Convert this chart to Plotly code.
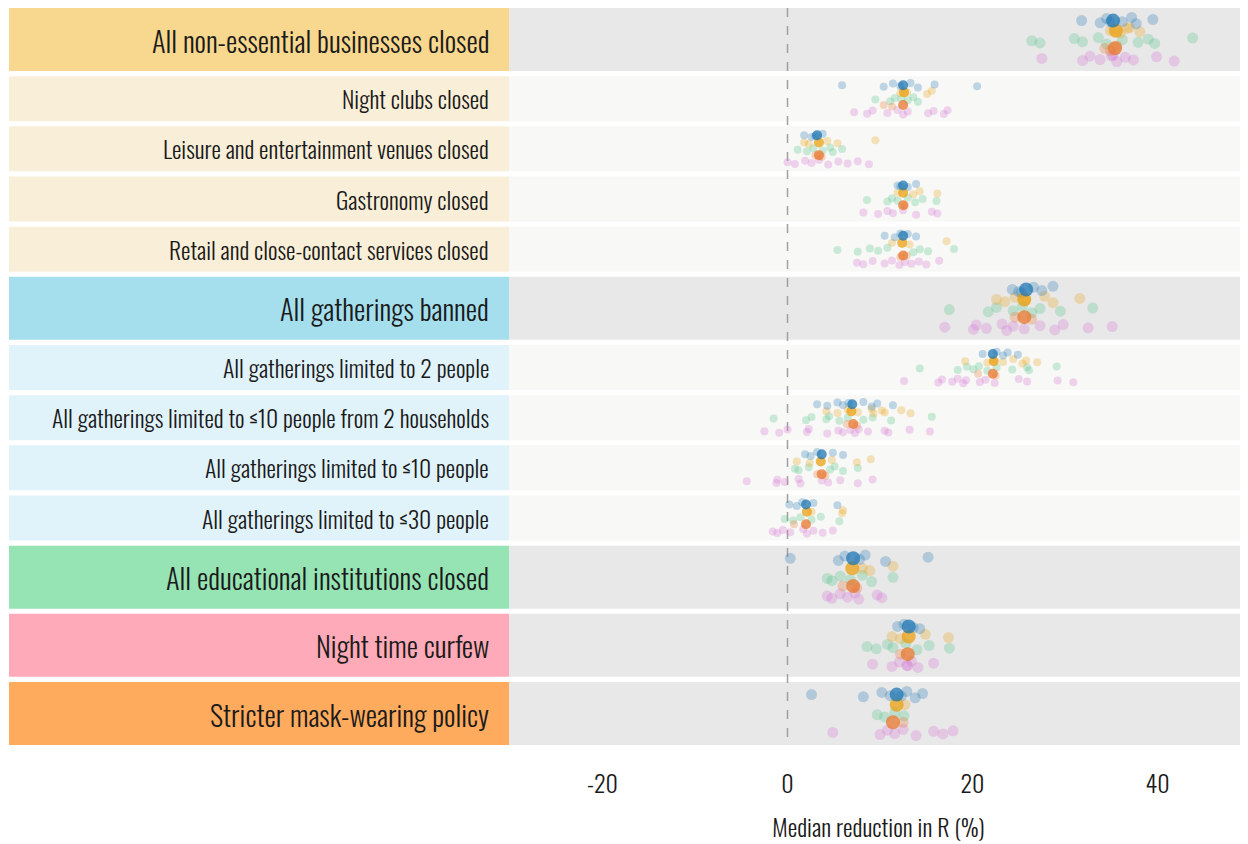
import plotly.graph_objects as go

# ---------------- data ----------------
labels = [
    "All non-essential businesses closed",
    "Night clubs closed",
    "Leisure and entertainment venues closed",
    "Gastronomy closed",
    "Retail and close-contact services closed",
    "All gatherings banned",
    "All gatherings limited to 2 people",
    "All gatherings limited to ≤10 people from 2 households",
    "All gatherings limited to ≤10 people",
    "All gatherings limited to ≤30 people",
    "All educational institutions closed",
    "Night time curfew",
    "Stricter mask-wearing policy",
]
is_main = [True, False, False, False, False, True, False, False, False, False, True, True, True]
group = ["biz", "biz", "biz", "biz", "biz", "gath", "gath", "gath", "gath", "gath", "edu", "curf", "mask"]

blue_pts = [
    [31.8, 33.8, 34.5, 36.2, 37.2, 37.7, 39.5, 34.9],
    [5.9, 10.4, 11.4, 12.2, 13.3, 14.1, 15.9, 20.5],
    [1.8, 2.6, 3.8, 3.0],
    [11.9, 13.0, 13.9, 12.2],
    [10.5, 11.6, 13.0, 13.9, 12.2],
    [24.3, 25.0, 26.6, 27.5, 28.7, 25.3],
    [21.1, 23.3, 23.8, 24.9, 22.6],
    [3.2, 4.3, 5.4, 6.0, 8.2, 9.1, 9.7, 11.4, 6.6],
    [1.9, 2.5, 4.9, 6.0, 3.2],
    [0.2, 1.0, 2.8, 5.4, 1.6],
    [0.3, 5.5, 6.2, 7.8, 8.4, 10.6, 15.2],
    [11.9, 14.3, 12.6, 13.6],
    [2.6, 8.2, 10.2, 11.1, 12.9, 13.8, 14.6, 12.3],
]
blue_med = [35.2, 12.5, 3.2, 12.5, 12.5, 25.8, 22.2, 7.0, 3.7, 2.0, 7.1, 13.1, 11.8]

yellow_pts = [
    [34.9, 36.0, 36.7, 38.1, 37.0],
    [12.9, 15.1, 15.6, 12.2],
    [1.8, 2.3, 4.3, 5.4, 9.5],
    [11.9, 13.6, 14.3, 16.2],
    [11.3, 13.2, 17.2],
    [22.6, 23.5, 24.6, 25.7, 27.8, 28.7, 31.6],
    [19.2, 21.6, 22.3, 23.3, 24.4, 25.4, 25.8, 27.0],
    [4.2, 5.4, 6.5, 7.6, 9.1, 9.3, 10.2, 10.5, 12.3, 13.3],
    [1.0, 2.4, 4.8, 7.5, 9.0],
    [2.6, 5.9, 6.0],
    [8.1, 8.9, 11.4],
    [11.3, 12.2, 14.9, 17.4],
    [12.7],
]
yellow_med = [35.5, 12.6, 3.4, 12.5, 12.4, 25.6, 22.3, 6.9, 3.6, 2.1, 7.0, 13.1, 11.8]

green_pts = [
    [26.4, 27.3, 31.0, 31.9, 33.6, 34.5, 36.2, 37.9, 39.0, 39.7, 43.8],
    [9.5, 11.1, 11.6, 13.0, 13.6, 14.1, 12.3],
    [1.1, 2.1, 2.8, 3.8, 4.6, 4.9, 5.9],
    [8.6, 10.8, 11.3, 11.9, 13.0, 13.8, 14.6, 16.1],
    [5.4, 7.6, 8.9, 9.8, 10.8, 13.6, 14.3, 15.2, 18.0],
    [17.5, 21.7, 22.6, 24.4, 25.4, 26.4, 27.3, 29.5, 33.0],
    [14.3, 18.4, 19.4, 20.1, 20.7, 21.6, 22.6, 24.3, 25.9, 26.1, 29.1],
    [-1.5, 2.0, 2.6, 4.2, 4.5, 5.6, 6.5, 8.2, 9.2, 11.2, 15.6],
    [0.8, 1.2, 2.3, 4.6, 5.1, 6.0, 7.6],
    [-0.3, 0.6, 1.4, 2.6, 3.6, 5.6],
    [4.3, 4.8, 5.7, 6.8, 8.1, 9.1, 11.4],
    [8.6, 9.6, 10.8, 11.4, 12.8, 14.0, 15.3, 17.5],
    [9.7, 10.5, 11.6, 12.6],
]

orange_pts = [
    [34.3, 34.9, 35.6],
    [10.4, 11.3],
    [3.0, 3.7],
    [12.7],
    [12.9, 12.2],
    [24.6, 26.4],
    [20.6, 22.5],
    [6.4, 7.5],
    [3.2, 4.1],
    [0.7],
    [6.0, 7.5],
    [12.2],
    [12.5],
]
orange_med = [35.4, 12.5, 3.4, 12.5, 12.5, 25.6, 22.2, 7.1, 3.7, 2.0, 7.1, 13.0, 11.4]

pink_pts = [
    [27.5, 31.9, 32.7, 33.8, 35.2, 35.6, 36.5, 37.4, 39.9, 41.8, 35.0],
    [7.2, 8.6, 9.2, 10.8, 11.9, 12.5, 13.0, 15.2, 15.8, 16.9, 17.3],
    [0.0, 0.8, 1.9, 2.6, 3.4, 4.4, 5.5, 6.5, 7.6, 8.8],
    [8.2, 9.8, 10.8, 11.4, 12.5, 13.9, 15.6, 16.2],
    [7.5, 8.2, 9.2, 10.5, 11.3, 12.1, 12.7, 13.4, 14.2, 15.0, 16.4],
    [17.0, 20.1, 20.4, 21.5, 23.2, 23.7, 24.4, 25.6, 27.3, 28.9, 29.8, 32.5, 35.1],
    [12.6, 16.3, 16.7, 17.8, 18.4, 19.0, 19.3, 20.8, 21.4, 22.4, 25.0, 25.9, 29.2, 30.9],
    [-2.5, -0.9, 0.0, 2.1, 2.3, 4.3, 5.5, 6.0, 6.8, 7.3, 7.7, 8.7, 10.5, 10.9, 13.2, 15.4],
    [-4.4, -1.2, -1.1, -0.3, 1.2, 1.4, 3.7, 4.4, 5.7, 7.6, 9.2],
    [-1.6, -1.1, -0.5, 0.3, 1.7, 2.1, 2.8, 3.8, 4.9],
    [4.3, 4.8, 5.7, 6.5, 7.3, 7.7, 9.7, 10.2],
    [9.2, 11.3, 12.1, 12.9, 13.4, 14.1, 15.8, 13.0],
    [4.9, 10.0, 10.8, 11.6, 12.5, 13.9, 15.8, 16.8, 17.9],
]

x_ticks = [-20, 0, 20, 40]
x_title = "Median reduction in R (%)"

# ---------------- styling ----------------
FONT = "Oswald, 'Liberation Sans Narrow', 'DejaVu Sans Condensed', 'Roboto Condensed', sans-serif"
TXT = "#1a1a1a"
box_colors = {
    ("biz", True): "#f8d78f", ("biz", False): "#f9efd8",
    ("gath", True): "#a5dfee", ("gath", False): "#e1f3fa",
    ("edu", True): "#96e3b4", ("curf", True): "#ffaab8", ("mask", True): "#ffab5e",
}
band_main, band_sub = "#e8e8e8", "#f8f8f6"

series = [
    # name, points, medians, color, vertical fraction within row
    ("pink", pink_pts, None, "#d36ed3", 0.80),
    ("green", green_pts, None, "#4fc38a", 0.52),
    ("orange", orange_pts, orange_med, "#e8772e", 0.64),
    ("yellow", yellow_pts, yellow_med, "#eba012", 0.36),
    ("blue", blue_pts, blue_med, "#1f77b4", 0.20),
]

# ---------------- layout geometry ----------------
H_MAIN, H_SUB, GAP = 63.0, 45.0, 5.17
row_top, row_h = [], []
y = 0.0
for m in is_main:
    h = H_MAIN if m else H_SUB
    row_top.append(y)
    row_h.append(h)
    y += h + GAP
total_h = y - GAP

# figure sits at an 8px page offset; measurements are page pixels
FIG_W, FIG_H = 1240, 836
PLOT_L, PLOT_R = 509, 1248          # page px of the plot area
LABEL_L, LABEL_R_TEXT = 9, 491
PX_PER_UNIT = 9.25
ZERO_PX = 787.5
def px2val(px):
    return (px - ZERO_PX) / PX_PER_UNIT

X_MIN, X_MAX = px2val(PLOT_L), px2val(PLOT_R)
plot_w = PLOT_R - PLOT_L
BOX_X0 = (LABEL_L - PLOT_L) / plot_w
LABEL_X = (LABEL_R_TEXT - PLOT_L) / plot_w

jit_pattern = [0.0, 0.7, -0.7, 0.35, -1.0, 1.0, -0.35, 0.5, -0.5, 0.85, -0.85, 0.2, -0.2, 0.6, -0.6, 0.1]

fig = go.Figure()
shapes = []
annotations = []

for i, lab in enumerate(labels):
    t, h = row_top[i], row_h[i]
    shapes.append(dict(type="rect", xref="paper", yref="y", x0=BOX_X0, x1=0, y0=t, y1=t + h,
                       fillcolor=box_colors[(group[i], is_main[i])], line=dict(width=0), layer="below"))
    shapes.append(dict(type="rect", xref="paper", yref="y", x0=0, x1=1, y0=t, y1=t + h,
                       fillcolor=band_main if is_main[i] else band_sub, line=dict(width=0), layer="below"))
    annotations.append(dict(x=LABEL_X, y=t + h / 2, xref="paper", yref="y", text=lab, showarrow=False,
                            xanchor="right", yanchor="middle",
                            font=dict(family=FONT, size=28.5 if is_main[i] else 23.7, color=TXT, weight=300)))

shapes.append(dict(type="line", xref="x", yref="y", x0=0, x1=0, y0=0, y1=total_h,
                   line=dict(color="#a0a0a0", width=1.5, dash="dash"), layer="below"))

for name, pts, med, color, frac in series:
    xs, ys, ss = [], [], []
    for i, row in enumerate(pts):
        t, h = row_top[i], row_h[i]
        for k, v in enumerate(row):
            xs.append(v)
            ys.append(t + h * frac + jit_pattern[k % len(jit_pattern)] * h * 0.05)
            ss.append(11 if is_main[i] else 8)
    fig.add_trace(go.Scatter(x=xs, y=ys, mode="markers", name=name, showlegend=False, hoverinfo="x",
                             marker=dict(color=color, size=ss, opacity=0.28, line=dict(width=0))))

for name, pts, med, color, frac in series:
    if med is None:
        continue
    xs, ys, ss = [], [], []
    for i, v in enumerate(med):
        t, h = row_top[i], row_h[i]
        xs.append(v)
        ys.append(t + h * frac)
        ss.append(14 if is_main[i] else 10)
    fig.add_trace(go.Scatter(x=xs, y=ys, mode="markers", name=name + " median", showlegend=False,
                             hoverinfo="x",
                             marker=dict(color=color, size=ss, opacity=0.75, line=dict(width=0))))

fig.update_layout(
    width=FIG_W, height=FIG_H,
    margin=dict(l=PLOT_L - 8, r=0, t=0, b=FIG_H - 737),
    paper_bgcolor="white", plot_bgcolor="white",
    shapes=shapes, annotations=annotations,
    font=dict(family=FONT, color=TXT),
    xaxis=dict(range=[X_MIN, X_MAX], tickvals=x_ticks, ticktext=[str(v) for v in x_ticks],
               showgrid=False, zeroline=False, showline=False, ticks="",
               tickfont=dict(family=FONT, size=24, color=TXT, weight=300), ticklabelstandoff=23,
               title=dict(text=x_title, font=dict(family=FONT, size=24, color=TXT, weight=300), standoff=21),
               fixedrange=True),
    yaxis=dict(range=[total_h, 0], visible=False, fixedrange=True),
)

fig.write_html("out.html")
